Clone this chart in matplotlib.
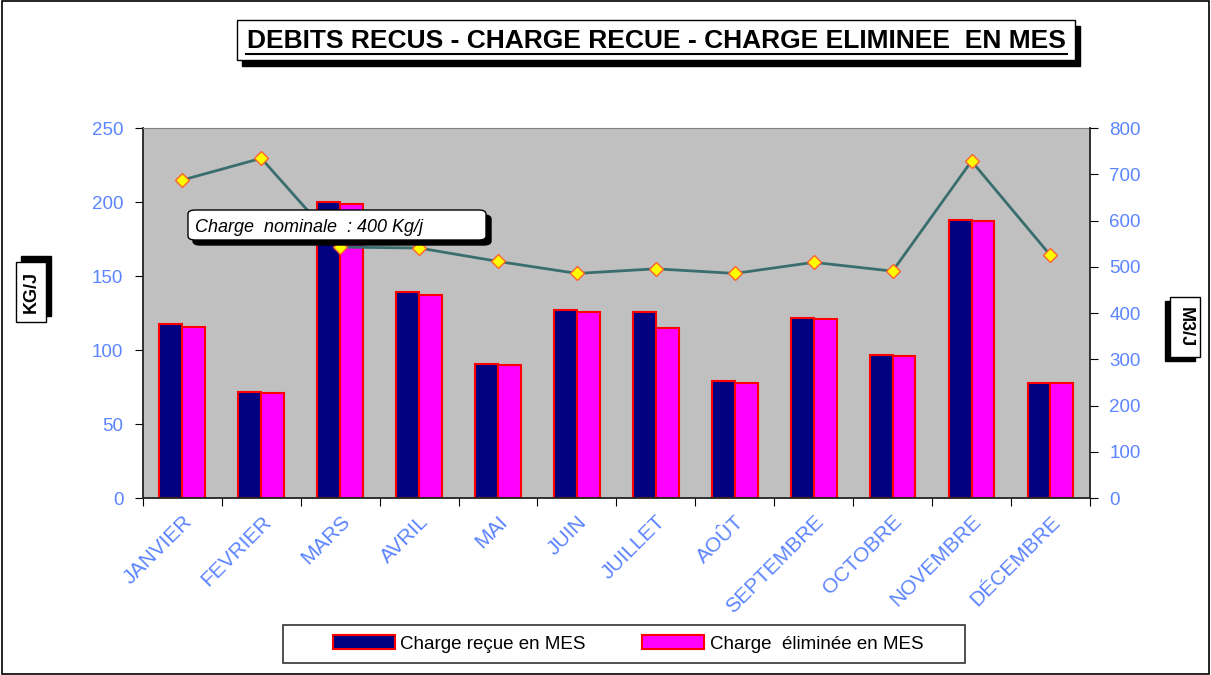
import numpy as np
import matplotlib.pyplot as plt
from matplotlib.patches import Rectangle, FancyBboxPatch

# --- données ---
mois = ['JANVIER', 'FEVRIER', 'MARS', 'AVRIL', 'MAI', 'JUIN', 'JUILLET',
        'AOÛT', 'SEPTEMBRE', 'OCTOBRE', 'NOVEMBRE', 'DÉCEMBRE']
charge_recue = [118, 72, 200, 139, 91, 127, 126, 79, 122, 97, 188, 78]
charge_eliminee = [116, 71, 199, 137, 90, 126, 115, 78, 121, 96, 187, 78]
debits = [688, 735, 543, 541, 512, 486, 496, 486, 510, 491, 729, 525]

plt.rcParams['font.family'] = ['Liberation Sans', 'DejaVu Sans']
tick_col = '#5B84FF'

fig = plt.figure(figsize=(12.11, 6.75), dpi=100)
fig.patches.append(Rectangle((0.002, 0.002), 0.996, 0.996, transform=fig.transFigure,
                             fill=False, edgecolor='black', lw=1.2))

ax = fig.add_axes([0.118, 0.262, 0.782, 0.548])
ax.set_facecolor('#C0C0C0')
x = np.arange(len(mois))
w = 0.29
ax.bar(x - w / 2, charge_recue, w, color='#000080', edgecolor='red', lw=1.5,
       label='Charge reçue en MES', zorder=2)
ax.bar(x + w / 2, charge_eliminee, w, color='#FF00FF', edgecolor='red', lw=1.5,
       label='Charge  éliminée en MES', zorder=2)
ax.set_xlim(-0.5, len(mois) - 0.5)
ax.set_ylim(0, 250)
ax.set_yticks(range(0, 251, 50))
ax.set_xticks(np.arange(-0.5, len(mois), 1.0))
ax.set_xticklabels([])
ax.set_xticks(x, minor=True)
ax.set_xticklabels(mois, minor=True, rotation=45, ha='right', rotation_mode='anchor',
                   color=tick_col, fontsize=15)
ax.tick_params(axis='x', which='minor', length=0, pad=10)
ax.tick_params(axis='x', which='major', length=6, direction='out')
ax.tick_params(axis='y', colors='black', labelcolor=tick_col, labelsize=13.5,
               direction='out', length=6, pad=8)
for s in ['left', 'bottom']:
    ax.spines[s].set_color('#222222')
    ax.spines[s].set_linewidth(1.3)
ax.spines['top'].set_color('#808080')
ax.spines['right'].set_visible(False)

ax2 = ax.twinx()
ax2.plot(x, debits, color='#3A6E6E', lw=2, marker='D', markersize=7,
         markerfacecolor='#FFFF00', markeredgecolor='#FF6030', markeredgewidth=1, zorder=3)
ax2.set_ylim(0, 800)
ax2.set_yticks(range(0, 801, 100))
ax2.tick_params(axis='y', colors='black', labelcolor=tick_col, labelsize=13.5,
                direction='out', length=6, pad=8)
ax2.spines['right'].set_color('#222222')
ax2.spines['right'].set_linewidth(1.3)
for s in ['left', 'top', 'bottom']:
    ax2.spines[s].set_visible(False)


def boite(xf, yf, wf, hf, dx, dy, rounded=False):
    # boîte blanche avec ombre noire
    style = 'round,pad=0,rounding_size=0.006' if rounded else 'square,pad=0'
    fig.patches.append(FancyBboxPatch((xf + dx, yf + dy), wf, hf, boxstyle=style,
                                      transform=fig.transFigure, facecolor='black',
                                      edgecolor='black', zorder=5))
    fig.patches.append(FancyBboxPatch((xf, yf), wf, hf, boxstyle=style,
                                      transform=fig.transFigure, facecolor='white',
                                      edgecolor='black', lw=1, zorder=6))


# titre
boite(237 / 1211, 1 - 60 / 675, 838 / 1211, 40 / 675, 5 / 1211, -6 / 675)
fig.text(656 / 1211, 1 - 41 / 675, 'DEBITS RECUS - CHARGE RECUE - CHARGE ELIMINEE  EN MES',
         ha='center', va='center', fontsize=19, fontweight='bold', zorder=7,
         family=['Liberation Sans Narrow', 'Liberation Sans'])
fig.add_artist(plt.Line2D([246 / 1211, 1067 / 1211], [1 - 54 / 675, 1 - 54 / 675],
                          transform=fig.transFigure, color='black', lw=1.5, zorder=7))

# unités
boite(16 / 1211, 1 - 322 / 675, 30 / 1211, 60 / 675, 5 / 1211, 6 / 675)
fig.text(31 / 1211, 1 - 292 / 675, 'KG/J', rotation=90, ha='center', va='center',
         fontsize=13, fontweight='bold', zorder=7)
boite(1170 / 1211, 1 - 357 / 675, 30 / 1211, 60 / 675, -5 / 1211, -4 / 675)
fig.text(1185 / 1211, 1 - 327 / 675, 'M3/J', rotation=-90, ha='center', va='center',
         fontsize=13, fontweight='bold', zorder=7)

# charge nominale
boite(188 / 1211, 1 - 240 / 675, 298 / 1211, 30 / 675, 5 / 1211, -5 / 675, rounded=True)
fig.text(195 / 1211, 1 - 228 / 675, 'Charge  nominale  : 400 Kg/j', ha='left', va='center',
         fontsize=13, style='italic', zorder=7)

# légende
fig.patches.append(Rectangle((283 / 1211, 1 - 663 / 675), 682 / 1211, 38 / 675,
                             transform=fig.transFigure, facecolor='white',
                             edgecolor='#333333', lw=1.2, zorder=7))
leg = fig.legend(*ax.get_legend_handles_labels(), loc='center', ncol=2,
                 bbox_to_anchor=(628 / 1211, 1 - 644 / 675), bbox_transform=fig.transFigure,
                 fontsize=13.5, frameon=False,
                 handlelength=3.3, handleheight=0.7, handletextpad=0.3, columnspacing=3.0,
                 borderpad=0.5, borderaxespad=0)
leg.set_zorder(8)

fig.savefig('out.png', dpi=100)
